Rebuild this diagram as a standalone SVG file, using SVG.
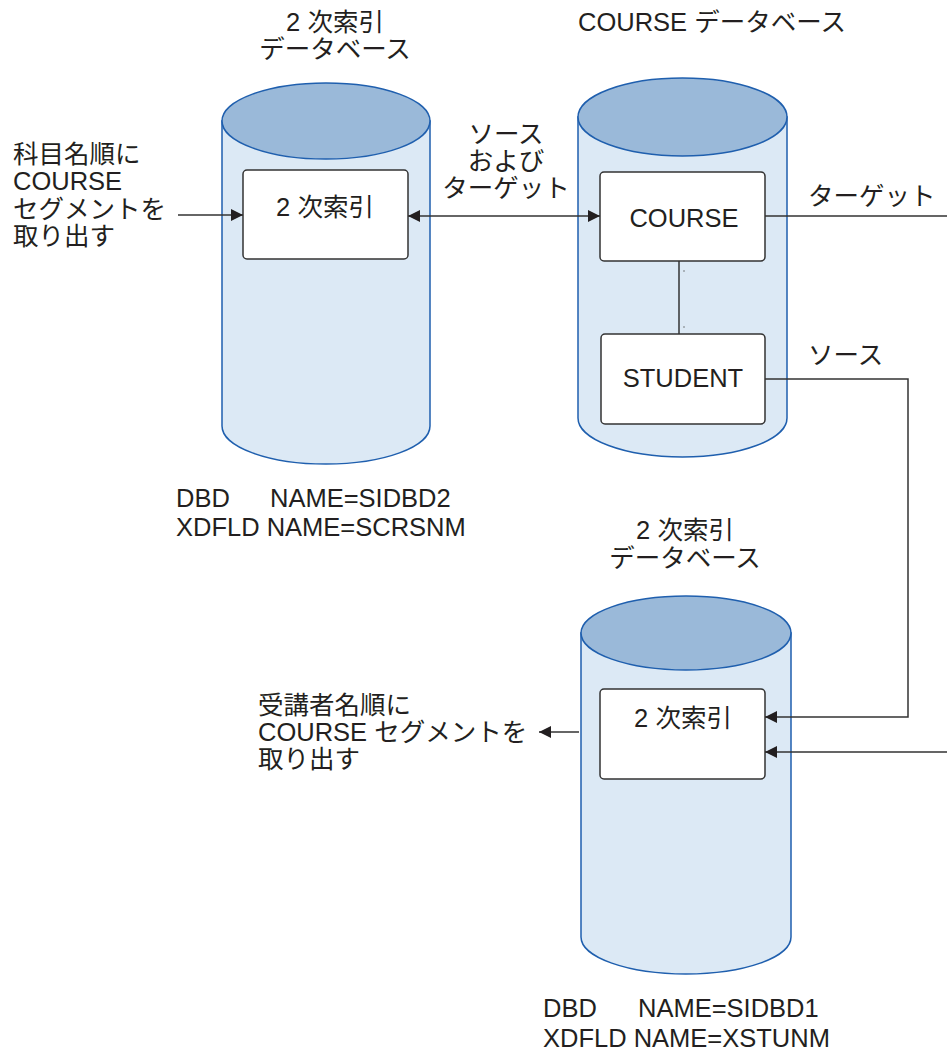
<svg xmlns="http://www.w3.org/2000/svg" width="947" height="1050" viewBox="0 0 947 1050">
<style>
text{font-family:"Liberation Sans","Noto Sans CJK JP",sans-serif;font-size:25.5px;fill:#231f20}
.mid{text-anchor:middle}
.body{fill:#dce9f5;stroke:#1f5fae;stroke-width:1.5}
.top{fill:#9ab9d9;stroke:#1f5fae;stroke-width:1.5}
.box{fill:#fff;stroke:#333;stroke-width:1.5}
.ln{fill:none;stroke:#333;stroke-width:1.5}
</style>
<defs>
<marker id="ah" markerUnits="userSpaceOnUse" markerWidth="12" markerHeight="12" refX="12" refY="6" orient="auto-start-reverse">
<path d="M0,0 L12,6 L0,12 z" fill="#231f20"/>
</marker>
</defs>
<rect width="947" height="1050" fill="#fff"/>

<g id="db-sidbd2">
<path class="body" d="M222,121 V426 A104,38 0 0 0 430,426 V121 Z"/>
<ellipse class="top" cx="326" cy="121" rx="104" ry="38"/>
<text class="mid" x="335"><tspan x="335" y="31">2 次索引</tspan><tspan x="335" y="58">データベース</tspan></text>
<text x="176" y="507">DBD</text>
<text x="270" y="507">NAME=SIDBD2</text>
<text x="176" y="536">XDFLD NAME=SCRSNM</text>
</g>
<g id="idx1">
<rect class="box" x="243" y="170" width="165" height="89" rx="4"/>
<text class="mid" x="325" y="216">2 次索引</text>
</g>

<g id="db-course">
<path class="body" d="M578,117 V418 A104.5,39 0 0 0 787,418 V117 Z"/>
<ellipse class="top" cx="682.5" cy="117" rx="104.5" ry="39"/>
<text class="mid" x="712" y="31">COURSE データベース</text>
</g>
<g id="seg-course">
<rect class="box" x="600" y="172" width="165" height="89" rx="4"/>
<text class="mid" x="684" y="227">COURSE</text>
</g>
<g id="seg-student">
<rect class="box" x="601" y="334" width="164" height="90" rx="4"/>
<text class="mid" x="683" y="387">STUDENT</text>
</g>

<g id="db-sidbd1">
<path class="body" d="M581,633 V937 A105,37 0 0 0 791,937 V633 Z"/>
<ellipse class="top" cx="686" cy="633" rx="105" ry="37"/>
<text class="mid" x="685"><tspan x="685" y="539">2 次索引</tspan><tspan x="685" y="567">データベース</tspan></text>
<text x="543" y="1017">DBD</text>
<text x="638" y="1017">NAME=SIDBD1</text>
<text x="543" y="1047">XDFLD NAME=XSTUNM</text>
</g>
<g id="idx2">
<rect class="box" x="600" y="689" width="165" height="90" rx="4"/>
<text class="mid" x="683" y="727">2 次索引</text>
</g>

<g id="label-left-top">
<text x="13"><tspan x="13" y="163">科目名順に</tspan><tspan x="13" y="190">COURSE</tspan><tspan x="13" y="218">セグメントを</tspan><tspan x="13" y="245">取り出す</tspan></text>
</g>
<g id="label-left-bottom">
<text x="258"><tspan x="258" y="714">受講者名順に</tspan><tspan x="258" y="741">COURSE セグメントを</tspan><tspan x="258" y="768">取り出す</tspan></text>
</g>

<g id="connectors">
<line class="ln" x1="178" y1="215" x2="243" y2="215" marker-end="url(#ah)"/>
<line class="ln" x1="408" y1="216" x2="600" y2="216" marker-start="url(#ah)" marker-end="url(#ah)"/>
<line class="ln" x1="679" y1="261" x2="679" y2="334"/>
<circle cx="684" cy="271" r="0.7" fill="#555"/>
<circle cx="684" cy="327" r="0.7" fill="#555"/>
<path class="ln" d="M765,216 H952 V752 H765" marker-end="url(#ah)"/>
<path class="ln" d="M765,379 H908 V717 H765" marker-end="url(#ah)"/>
<line class="ln" x1="579" y1="732" x2="539" y2="732" marker-end="url(#ah)"/>
<text class="mid" x="506"><tspan x="506" y="143">ソース</tspan><tspan x="506" y="170">および</tspan><tspan x="506" y="197">ターゲット</tspan></text>
<text x="808" y="205">ターゲット</text>
<text x="808" y="364">ソース</text>
</g>
</svg>
